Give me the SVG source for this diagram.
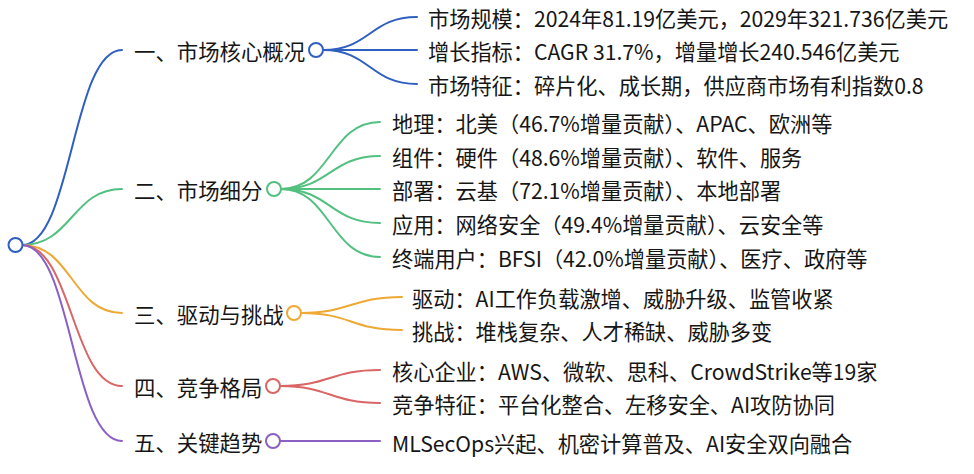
<svg xmlns="http://www.w3.org/2000/svg" width="974" height="474" viewBox="0 0 974 474">
<style>
text{font-family:"Noto Sans CJK SC","Noto Sans",sans-serif;fill:#161616;dominant-baseline:central}
.l1{font-size:21.4px}
.l2{font-size:21.2px}
path{fill:none;stroke-width:2;stroke-linecap:round}
circle{fill:#fff;stroke-width:2}
.b{stroke:#2f5fbf}.g{stroke:#52c07f}.o{stroke:#eea934}.r{stroke:#d96565}.p{stroke:#8a60c4}
</style>
<rect width="974" height="474" fill="#fff"/>
<g id="connectors">
<path class="b" d="M22,245 C72,245 72,50 122,50"/>
<path class="g" d="M22,245 C72,245 72,189 122,189"/>
<path class="o" d="M22,245 C72,245 72,313 122,313"/>
<path class="r" d="M22,245 C72,245 72,386 122,386"/>
<path class="p" d="M22,245 C72,245 72,441 122,441"/>
<path class="b" d="M323,50 C370,50 370,17 417,17"/>
<path class="b" d="M323,50 L417,50"/>
<path class="b" d="M323,50 C370,50 370,84 417,84"/>
<path class="g" d="M281,189 C330,189 330,122 380,122"/>
<path class="g" d="M281,189 C330,189 330,156 380,156"/>
<path class="g" d="M281,189 L380,189"/>
<path class="g" d="M281,189 C330,189 330,223 380,223"/>
<path class="g" d="M281,189 C330,189 330,257 380,257"/>
<path class="o" d="M301,313 C351,313 351,297 402,297"/>
<path class="o" d="M301,313 C351,313 351,330 402,330"/>
<path class="r" d="M280,386 C330,386 330,370 380,370"/>
<path class="r" d="M280,386 C330,386 330,403 380,403"/>
<path class="p" d="M280,441 L380,441"/>
</g>
<g id="root"><circle class="b" cx="15.5" cy="245" r="7"/></g>
<g id="n1"><text class="l1" x="134" y="50">一、市场核心概况</text><circle class="b" cx="316" cy="50" r="7"/></g>
<g id="n1a"><text class="l2" x="428" y="17">市场规模：2024年81.19亿美元，2029年321.736亿美元</text></g>
<g id="n1b"><text class="l2" x="428" y="50">增长指标：CAGR 31.7%，增量增长240.546亿美元</text></g>
<g id="n1c"><text class="l2" x="428" y="84">市场特征：碎片化、成长期，供应商市场有利指数0.8</text></g>
<g id="n2"><text class="l1" x="134" y="189">二、市场细分</text><circle class="g" cx="274" cy="189" r="7"/></g>
<g id="n2a"><text class="l2" x="392" y="122">地理：北美（46.7%增量贡献）、APAC、欧洲等</text></g>
<g id="n2b"><text class="l2" x="392" y="156">组件：硬件（48.6%增量贡献）、软件、服务</text></g>
<g id="n2c"><text class="l2" x="392" y="189">部署：云基（72.1%增量贡献）、本地部署</text></g>
<g id="n2d"><text class="l2" x="392" y="223">应用：网络安全（49.4%增量贡献）、云安全等</text></g>
<g id="n2e"><text class="l2" x="392" y="257">终端用户：BFSI（42.0%增量贡献）、医疗、政府等</text></g>
<g id="n3"><text class="l1" x="134" y="313">三、驱动与挑战</text><circle class="o" cx="294" cy="313" r="7"/></g>
<g id="n3a"><text class="l2" x="412" y="297">驱动：AI工作负载激增、威胁升级、监管收紧</text></g>
<g id="n3b"><text class="l2" x="412" y="330">挑战：堆栈复杂、人才稀缺、威胁多变</text></g>
<g id="n4"><text class="l1" x="134" y="386">四、竞争格局</text><circle class="r" cx="273" cy="386" r="7"/></g>
<g id="n4a"><text class="l2" x="392" y="370">核心企业：AWS、微软、思科、CrowdStrike等19家</text></g>
<g id="n4b"><text class="l2" x="392" y="403">竞争特征：平台化整合、左移安全、AI攻防协同</text></g>
<g id="n5"><text class="l1" x="134" y="441">五、关键趋势</text><circle class="p" cx="273" cy="441" r="7"/></g>
<g id="n5a"><text class="l2" x="392" y="442">MLSecOps兴起、机密计算普及、AI安全双向融合</text></g>
</svg>
